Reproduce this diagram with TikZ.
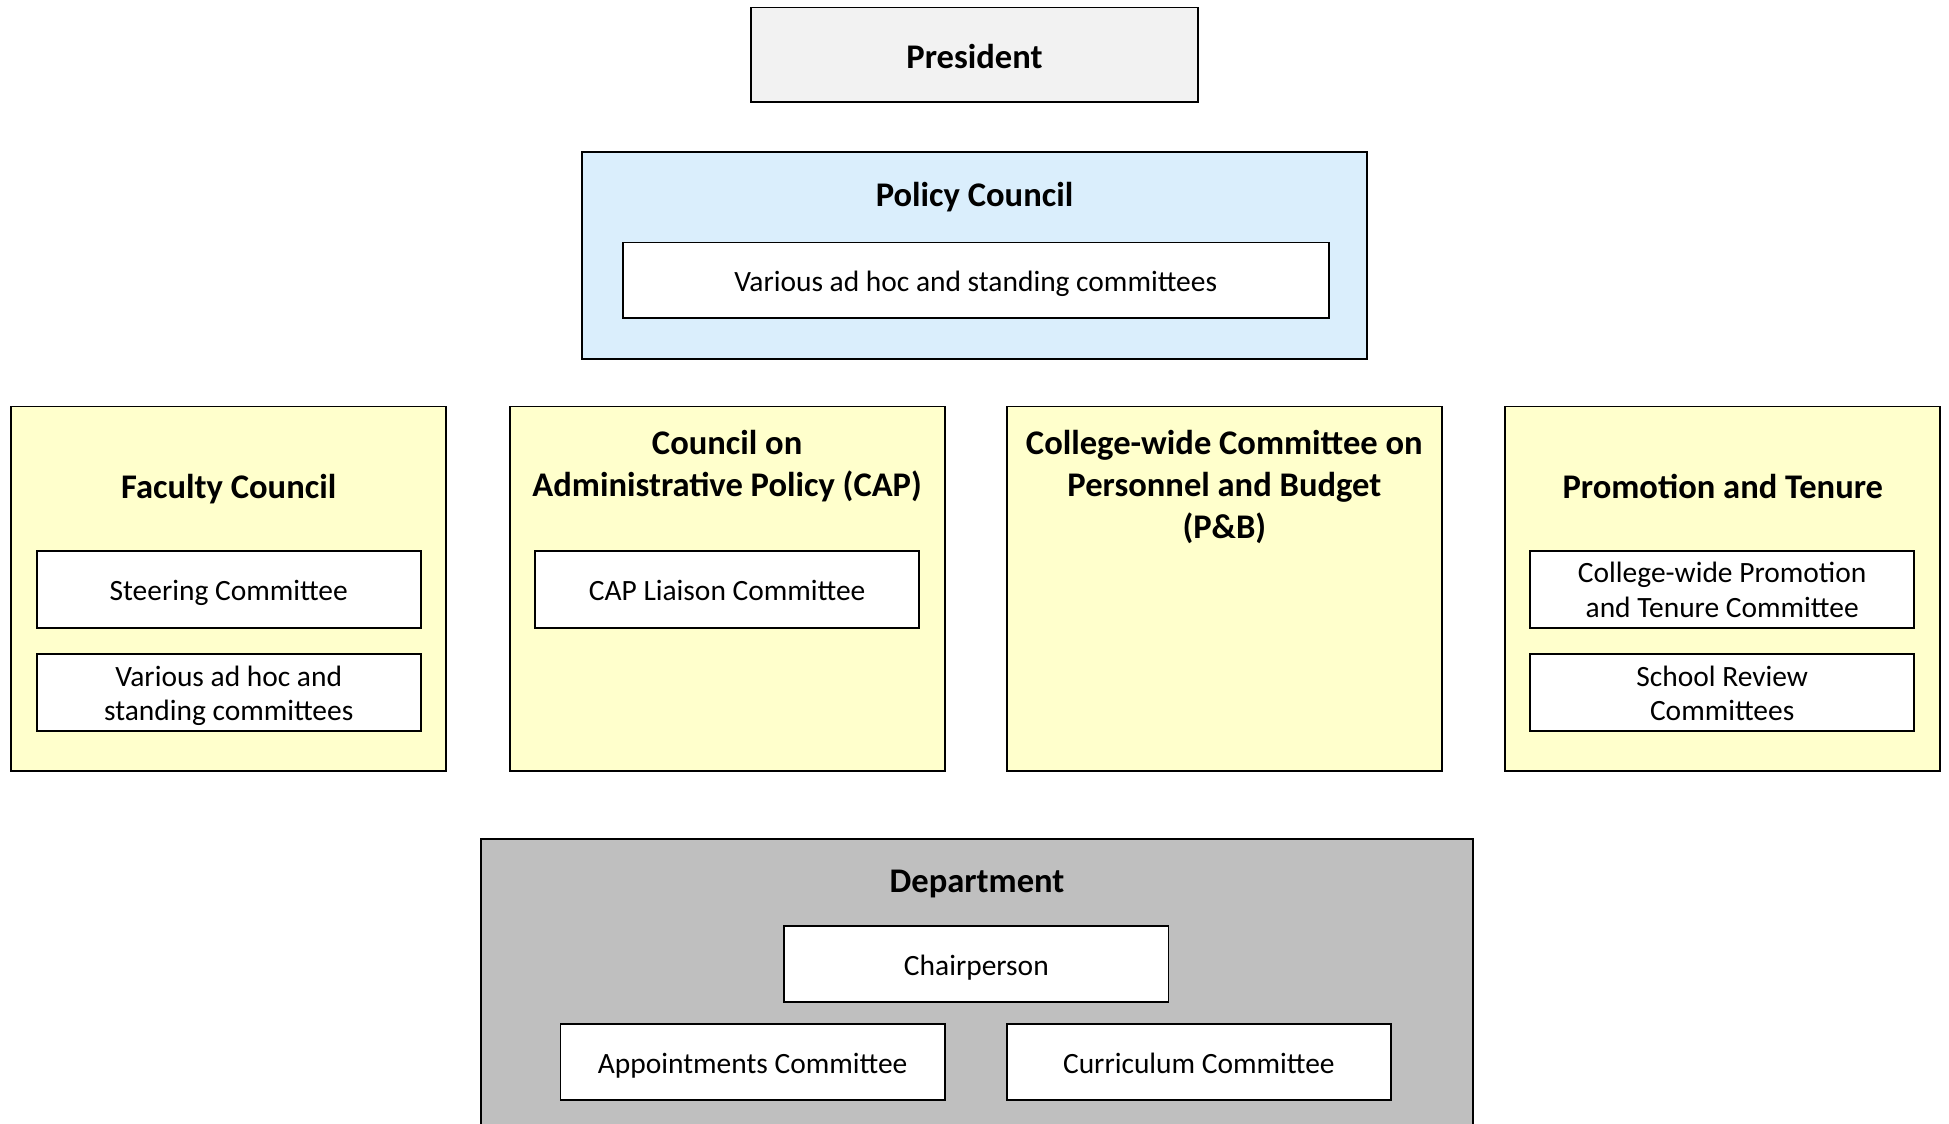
\documentclass[tikz,border=0pt]{standalone}
\usepackage{fontspec}
\setmainfont{Carlito}
\definecolor{presgray}{HTML}{F2F2F2}
\definecolor{pcblue}{HTML}{DAEEFC}
\definecolor{unityellow}{HTML}{FFFFCC}
\definecolor{deptgray}{HTML}{BFBFBF}

\begin{document}
\begin{tikzpicture}[x=1pt, y=-1pt,
    box/.style={draw, line width=1.4pt, inner sep=0pt},
    unit/.style={box, fill=unityellow, minimum width=350, minimum height=293},
    sub/.style={box, fill=white, minimum width=309, minimum height=62,
      align=center, font=\fontsize{23.7}{28}\selectfont,
      execute at begin node={\rule[-8.4pt]{0pt}{35pt}}, execute at end node=\strut},
    twoline/.style={text height=52pt, text depth=6pt},
    hd/.style={align=center, inner sep=0pt, font=\bfseries\fontsize{27.8}{33.8}\selectfont,
      execute at begin node={\rule[-10.1pt]{0pt}{39.8pt}}, execute at end node=\strut},
  ]
  \useasboundingbox (0,0) rectangle (1568,904);

  % top
  \node[box, fill=presgray, minimum width=360, minimum height=76] (pres) at (784,44) {};
  \node[hd] (presT) at (784,45) {President};

  \node[box, fill=pcblue, minimum width=632, minimum height=167] (pc) at (784,205.5) {};
  \node[hd] (pcT) at (784,156) {Policy Council};
  \node[sub, minimum width=568, minimum height=61] (pcS) at (785,225.5) {Various ad hoc and standing committees};

  % middle row
  \node[unit] (fc) at (184,473.5) {};
  \node[unit] (cap) at (585,473.5) {};
  \node[unit] (pb) at (985,473.5) {};
  \node[unit] (pt) at (1386,473.5) {};

  \node[hd] (fcT) at (184,391) {Faculty Council};
  \node[hd] (capT) at (585,378) {Council on\\Administrative Policy (CAP)};
  \node[hd] (pbT) at (985,395) {College-wide Committee on\\Personnel and Budget\\(P\&B)};
  \node[hd] (ptT) at (1386,391) {Promotion and Tenure};

  \node[sub] (fcA) at (184,474) {Steering Committee};
  \node[sub, twoline] (fcB) at (184,557) {Various ad hoc and\\standing committees};
  \node[sub] (capA) at (585,474) {CAP Liaison Committee};
  \node[sub, twoline] (ptA) at (1385.5,474) {College-wide Promotion\\and Tenure Committee};
  \node[sub, twoline] (ptB) at (1385.5,557) {School Review\\Committees};

  % bottom
  \node[box, fill=deptgray, minimum width=798, minimum height=250] (dept) at (786,800) {};
  \node[hd] (deptT) at (786,708) {Department};
  \node[sub, minimum height=61] (chair) at (785.5,775.5) {Chairperson};
  \node[sub, minimum height=61] (appt) at (605.5,854.5) {Appointments Committee};
  \node[sub, minimum height=61] (curr) at (964.5,854.5) {Curriculum Committee};
\end{tikzpicture}
\end{document}
